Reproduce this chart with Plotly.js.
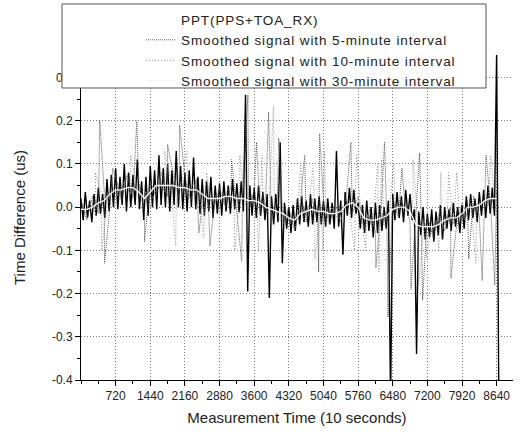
<!DOCTYPE html>
<html><head><meta charset="utf-8">
<script src="https://cdn.plot.ly/plotly-3.0.1.min.js"></script>
<style>html,body{margin:0;padding:0;background:#fff}#chart{width:520px;height:432px}
.legendtext{letter-spacing:0.9px}</style>
</head><body><div id="chart"></div>
<script>
// PPT(PPS+TOA_RX) raw signal: upper / lower swing per 90-unit block
const pptStep = 90;
const pptHi = [0.02,0.035,0.015,0.03,0.045,0.03,0.065,0.075,0.09,0.07,
 0.1,0.08,0.075,0.11,0.06,0.07,0.095,0.085,0.12,0.09,
 0.1,0.085,0.13,0.095,0.08,0.085,0.115,0.07,0.065,0.06,
 0.07,0.05,0.055,0.06,0.05,0.065,0.055,0.06,0.26,0.05,
 0.045,0.05,0.035,0.03,0.025,0.03,0.15,0.01,0.0,0.005,
 0.02,0.025,0.015,0.03,0.02,0.025,0.015,0.02,0.01,0.13,
 0.015,0.035,0.045,0.04,0.01,0.005,0.015,0.0,0.01,0.005,
 0.0,0.015,0.03,0.035,0.025,0.04,0.03,-0.005,-0.01,0.0,
 -0.015,-0.005,-0.01,0.005,0.0,-0.005,0.01,0.0,0.005,0.025,
 0.03,0.02,0.035,0.04,0.05,0.045,0.36];
const pptLo = [-0.03,-0.025,-0.035,-0.02,-0.015,-0.025,-0.01,0.0,-0.005,0.005,
 -0.01,0.0,0.005,-0.005,-0.03,-0.02,0.0,-0.005,0.005,0.0,
 -0.01,0.005,0.0,-0.005,-0.01,0.0,-0.005,-0.015,-0.02,-0.01,
 -0.025,-0.015,-0.02,-0.01,-0.015,-0.005,-0.012,-0.01,-0.195,-0.02,
 -0.025,-0.02,-0.03,-0.21,-0.04,-0.035,-0.13,-0.05,-0.06,-0.055,
 -0.04,-0.035,-0.045,-0.04,-0.035,-0.04,-0.045,-0.04,-0.05,-0.045,
 -0.11,-0.02,-0.025,-0.015,-0.05,-0.06,-0.055,-0.07,-0.06,-0.055,
 -0.05,-0.45,-0.03,-0.025,-0.035,-0.02,-0.03,-0.34,-0.065,-0.075,
 -0.07,-0.08,-0.065,-0.075,-0.05,-0.055,-0.045,-0.06,-0.05,-0.03,
 -0.025,-0.035,-0.02,-0.025,-0.015,-0.02,-0.45];

// Smoothed signals, sampled every 120 units, plus their spikes
const smoothStep = 120;
const fiveBase = [0.015,-0.03,0.025,-0.015,0.04,0.0,0.07,0.015,0.075,0.02,
 0.06,-0.01,0.06,0.025,0.08,0.025,0.075,0.02,0.07,0.015,
 0.065,0.005,0.045,-0.005,0.045,0.0,0.05,-0.005,0.045,-0.01,
 0.04,-0.015,0.025,-0.03,0.015,-0.04,0.0,-0.055,0.01,-0.035,
 0.02,-0.035,0.015,-0.04,0.01,-0.035,0.03,-0.015,0.025,-0.05,
 -0.005,-0.055,0.0,-0.045,0.02,-0.025,0.025,-0.035,-0.015,-0.07,
 -0.02,-0.07,-0.015,-0.055,0.0,-0.05,0.01,-0.025,0.025,-0.02,
 0.04,-0.005,0.04];
const fiveSpikeT = [390,490,660,1160,1320,1800,2050,2450,2680,3130,3340,3470,3650,3900,4110,4650,4940,4960,5610,6130,6310,6380,6670,6860,7040,7100,7690,8060,8340,8420,8600];
const fiveSpikeV = [0.2,-0.13,0.09,0.2,-0.08,0.145,0.19,-0.06,-0.09,0.11,-0.125,0.26,0.15,0.22,0.16,0.12,-0.15,0.17,0.15,-0.14,0.15,-0.255,0.09,-0.19,0.125,-0.215,-0.165,-0.12,-0.17,0.12,-0.18];

const tenOffset = 60;
const tenBase = [-0.02,0.01,-0.015,0.03,0.0,0.045,0.025,0.06,0.03,0.055,
 0.015,0.04,0.02,0.065,0.035,0.065,0.035,0.06,0.03,0.055,
 0.025,0.04,0.005,0.035,0.01,0.04,0.01,0.035,0.005,0.03,
 0.0,0.02,-0.015,0.005,-0.03,-0.01,-0.045,-0.015,-0.03,0.005,
 -0.025,0.005,-0.03,0.0,-0.03,0.0,-0.01,0.02,-0.02,-0.015,
 -0.045,-0.015,-0.04,-0.005,-0.02,0.015,-0.015,0.0,-0.06,-0.03,
 -0.06,-0.03,-0.055,-0.015,-0.04,-0.01,-0.03,0.015,-0.01,0.02,
 0.005,0.035];
const tenSpikeT = [300,430,1030,1740,1970,2200,2550,2610,3200,3300,3690,3760,4000,4570,4820,4860,5030,5060,5690,5730,5920,6170,6190,6250,6500,6900,7020,7190,7440,7480,7640,7810,8210,8520];
const tenSpikeV = [0.08,-0.1,0.12,0.13,-0.09,0.13,-0.07,0.08,-0.1,0.12,-0.1,0.12,0.235,0.1,0.09,-0.12,-0.1,0.13,-0.1,0.12,-0.1,0.1,-0.15,0.11,0.1,0.11,-0.18,-0.12,-0.1,0.08,0.08,0.08,-0.13,0.12];

const thirty = [-0.005,-0.005,0.0,0.01,0.015,0.03,0.04,0.04,0.045,0.045,
 0.035,0.02,0.035,0.05,0.05,0.05,0.05,0.045,0.045,0.04,
 0.04,0.03,0.02,0.02,0.02,0.025,0.025,0.02,0.02,0.015,
 0.015,0.01,0.0,-0.005,-0.01,-0.015,-0.025,-0.03,-0.015,-0.01,
 -0.005,-0.01,-0.01,-0.015,-0.015,-0.01,0.005,0.01,0.0,-0.025,
 -0.03,-0.03,-0.025,-0.02,-0.005,0.0,0.0,-0.01,-0.04,-0.045,
 -0.045,-0.045,-0.04,-0.03,-0.025,-0.025,-0.015,0.0,0.0,0.005,
 0.015,0.02,0.02];

const seriesNames = ['PPT(PPS+TOA_RX)','Smoothed signal with 5-minute interval','Smoothed signal with 10-minute interval','Smoothed signal with 30-minute interval'];
const xTickVals = [720,1440,2160,2880,3600,4320,5040,5760,6480,7200,7920,8640];
const xTickText = ['720','1440','2160','2880','3600','4320','5040','5760','6480','7200','7920','8640'];
const yTickVals = [-0.4,-0.3,-0.2,-0.1,0.0,0.1,0.2,0.3];
const yTickText = ['-0.4','-0.3','-0.2','-0.1','0.0','0.1','0.2','0.3'];

// build traces
const pptX = [], pptY = [];
pptHi.forEach((v, i) => {
  pptX.push(i * pptStep); pptY.push(v);
  pptX.push(i * pptStep + pptStep / 2); pptY.push(pptLo[i]);
});
function merged(t0, step, base, st, sv) {
  const pts = base.map((v, i) => [t0 + i * step, v]);
  st.forEach((t, k) => pts.push([t, sv[k]]));
  pts.sort((a, b) => a[0] - b[0]);
  return {x: pts.map(p => p[0]), y: pts.map(p => p[1])};
}
const five = merged(0, smoothStep, fiveBase, fiveSpikeT, fiveSpikeV);
const ten = merged(tenOffset, smoothStep, tenBase, tenSpikeT, tenSpikeV);
const thirtyX = thirty.map((v, i) => i * smoothStep);

const FONT = 'Liberation Sans, Arial, sans-serif';
const data = [
  {x: pptX, y: pptY, type: 'scatter', mode: 'lines', name: seriesNames[0], showlegend: false,
   line: {color: '#000', width: 1.4}},
  {x: five.x, y: five.y, type: 'scatter', mode: 'lines', name: seriesNames[1], legendrank: 2,
   line: {color: '#5a5a5a', width: 1, dash: '1px,1px'}},
  {x: ten.x, y: ten.y, type: 'scatter', mode: 'lines', name: seriesNames[2], legendrank: 3,
   line: {color: '#8c8c8c', width: 1, dash: '1px,2px'}},
  {x: thirtyX, y: thirty, type: 'scatter', mode: 'lines', name: seriesNames[3], legendrank: 4,
   line: {color: '#f4f4f4', width: 1.3}},
  {x: [null], y: [null], type: 'scatter', mode: 'lines', name: seriesNames[0], legendrank: 1,
   line: {color: 'rgba(0,0,0,0)', width: 1}}
];

const layout = {
  width: 520, height: 432,
  margin: {l: 81, r: 7, t: 55, b: 52, autoexpand: false},
  paper_bgcolor: '#fff', plot_bgcolor: '#fff',
  font: {family: FONT, color: '#222', size: 12},
  showlegend: true,
  legend: {x: 0.139, xanchor: 'left', y: 1.157, yanchor: 'top',
    bgcolor: 'rgba(0,0,0,0)', borderwidth: 0, font: {family: FONT, size: 13.5, color: '#222'},
    tracegroupgap: 0},
  xaxis: {range: [0, 8980], tickmode: 'array', tickvals: xTickVals, ticktext: xTickText,
    ticks: 'outside', ticklen: 5, tickcolor: '#000', showline: true, linecolor: '#000', linewidth: 1,
    showgrid: true, gridcolor: '#7a7a7a', griddash: '1px,2px', gridwidth: 1, zeroline: false,
    tickfont: {size: 12, family: FONT, color: '#222'},
    minor: {tickmode: 'linear', tick0: 0, dtick: 360, ticks: 'outside', ticklen: 3, tickcolor: '#000', showgrid: false},
    title: {text: 'Measurement Time (10 seconds)', font: {size: 15, family: FONT, color: '#222'}, standoff: 10}},
  yaxis: {range: [-0.4, 0.352], tickmode: 'array', tickvals: yTickVals, ticktext: yTickText,
    ticks: 'outside', ticklen: 5, tickcolor: '#000', showline: true, linecolor: '#000', linewidth: 1,
    showgrid: true, gridcolor: '#7a7a7a', griddash: '1px,2px', gridwidth: 1, zeroline: false,
    tickfont: {size: 12, family: FONT, color: '#222'},
    minor: {tickmode: 'linear', tick0: 0, dtick: 0.05, ticks: 'outside', ticklen: 3, tickcolor: '#000', showgrid: false},
    title: {text: 'Time Difference (us)', font: {size: 15, family: FONT, color: '#222'}, standoff: 22}},
  shapes: [{type: 'rect', xref: 'paper', yref: 'paper', x0: -0.044, x1: 0.9375, y0: 0.8985, y1: 1.157,
    line: {color: '#555', width: 1}, fillcolor: '#fff', layer: 'above'}]
};
Plotly.newPlot('chart', data, layout, {displayModeBar: false, staticPlot: true});
</script></body></html>
